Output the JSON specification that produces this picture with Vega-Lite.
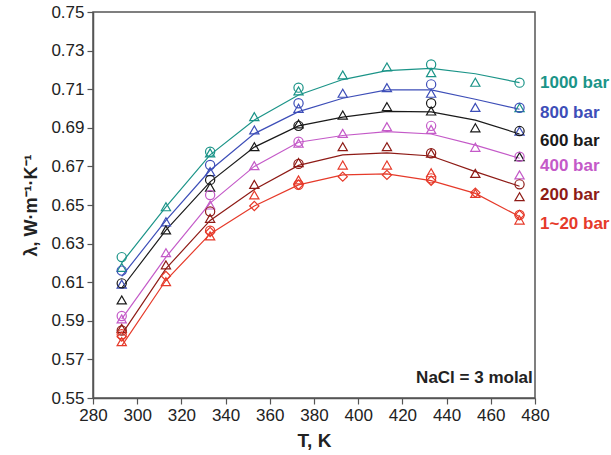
{
  "$schema": "https://vega.github.io/schema/vega-lite/v6.json",
  "width": 442,
  "height": 386,
  "autosize": {"type": "none"},
  "padding": {"left": 93, "top": 12, "right": 76, "bottom": 57},
  "background": "white",
  "config": {
    "font": "Liberation Sans",
    "view": {"stroke": "#555555", "strokeWidth": 1.5},
    "axis": {
      "grid": false,
      "domainColor": "#555555",
      "domainWidth": 1.5,
      "tickColor": "#555555",
      "tickWidth": 1.2,
      "tickSize": 6,
      "labelFont": "Liberation Sans",
      "labelFontSize": 17,
      "labelColor": "#222222",
      "labelOverlap": false,
      "labelFlush": false,
      "labelBound": false,
      "titleFont": "Liberation Sans",
      "titleFontWeight": "bold",
      "titleColor": "#222222"
    }
  },
  "datasets": {
    "fit": [
      {"series": "1000 bar", "T": 293, "lambda": 0.620}, {"series": "1000 bar", "T": 313, "lambda": 0.649}, {"series": "1000 bar", "T": 333, "lambda": 0.676}, {"series": "1000 bar", "T": 353, "lambda": 0.694}, {"series": "1000 bar", "T": 373, "lambda": 0.707}, {"series": "1000 bar", "T": 393, "lambda": 0.715}, {"series": "1000 bar", "T": 413, "lambda": 0.7196}, {"series": "1000 bar", "T": 433, "lambda": 0.7208}, {"series": "1000 bar", "T": 453, "lambda": 0.718}, {"series": "1000 bar", "T": 473, "lambda": 0.7134},
      {"series": "800 bar", "T": 293, "lambda": 0.613}, {"series": "800 bar", "T": 313, "lambda": 0.642}, {"series": "800 bar", "T": 333, "lambda": 0.668}, {"series": "800 bar", "T": 353, "lambda": 0.687}, {"series": "800 bar", "T": 373, "lambda": 0.6984}, {"series": "800 bar", "T": 393, "lambda": 0.7053}, {"series": "800 bar", "T": 413, "lambda": 0.7096}, {"series": "800 bar", "T": 433, "lambda": 0.7096}, {"series": "800 bar", "T": 453, "lambda": 0.7048}, {"series": "800 bar", "T": 473, "lambda": 0.6996},
      {"series": "600 bar", "T": 293, "lambda": 0.607}, {"series": "600 bar", "T": 313, "lambda": 0.637}, {"series": "600 bar", "T": 333, "lambda": 0.662}, {"series": "600 bar", "T": 353, "lambda": 0.680}, {"series": "600 bar", "T": 373, "lambda": 0.691}, {"series": "600 bar", "T": 393, "lambda": 0.6955}, {"series": "600 bar", "T": 413, "lambda": 0.6985}, {"series": "600 bar", "T": 433, "lambda": 0.6982}, {"series": "600 bar", "T": 453, "lambda": 0.694}, {"series": "600 bar", "T": 473, "lambda": 0.6868},
      {"series": "400 bar", "T": 293, "lambda": 0.591}, {"series": "400 bar", "T": 313, "lambda": 0.623}, {"series": "400 bar", "T": 333, "lambda": 0.651}, {"series": "400 bar", "T": 353, "lambda": 0.670}, {"series": "400 bar", "T": 373, "lambda": 0.6825}, {"series": "400 bar", "T": 393, "lambda": 0.686}, {"series": "400 bar", "T": 413, "lambda": 0.688}, {"series": "400 bar", "T": 433, "lambda": 0.6868}, {"series": "400 bar", "T": 453, "lambda": 0.681}, {"series": "400 bar", "T": 473, "lambda": 0.6742},
      {"series": "200 bar", "T": 293, "lambda": 0.583}, {"series": "200 bar", "T": 313, "lambda": 0.617}, {"series": "200 bar", "T": 333, "lambda": 0.642}, {"series": "200 bar", "T": 353, "lambda": 0.658}, {"series": "200 bar", "T": 373, "lambda": 0.6705}, {"series": "200 bar", "T": 393, "lambda": 0.676}, {"series": "200 bar", "T": 413, "lambda": 0.677}, {"series": "200 bar", "T": 433, "lambda": 0.6754}, {"series": "200 bar", "T": 453, "lambda": 0.6673}, {"series": "200 bar", "T": 473, "lambda": 0.6597},
      {"series": "1~20 bar", "T": 293, "lambda": 0.577}, {"series": "1~20 bar", "T": 313, "lambda": 0.611}, {"series": "1~20 bar", "T": 333, "lambda": 0.635}, {"series": "1~20 bar", "T": 353, "lambda": 0.6495}, {"series": "1~20 bar", "T": 373, "lambda": 0.6604}, {"series": "1~20 bar", "T": 393, "lambda": 0.6656}, {"series": "1~20 bar", "T": 413, "lambda": 0.6661}, {"series": "1~20 bar", "T": 433, "lambda": 0.6626}, {"series": "1~20 bar", "T": 453, "lambda": 0.656}, {"series": "1~20 bar", "T": 473, "lambda": 0.644}
    ],
    "obs": [
      {"series": "1000 bar", "marker": "circle", "T": 293, "lambda": 0.623}, {"series": "1000 bar", "marker": "circle", "T": 333, "lambda": 0.6776}, {"series": "1000 bar", "marker": "circle", "T": 373, "lambda": 0.7108}, {"series": "1000 bar", "marker": "circle", "T": 433, "lambda": 0.7228}, {"series": "1000 bar", "marker": "circle", "T": 473, "lambda": 0.7134},
      {"series": "1000 bar", "marker": "triangle", "T": 293, "lambda": 0.6177}, {"series": "1000 bar", "marker": "triangle", "T": 313, "lambda": 0.6491}, {"series": "1000 bar", "marker": "triangle", "T": 333, "lambda": 0.677}, {"series": "1000 bar", "marker": "triangle", "T": 353, "lambda": 0.6958}, {"series": "1000 bar", "marker": "triangle", "T": 373, "lambda": 0.7091}, {"series": "1000 bar", "marker": "triangle", "T": 393, "lambda": 0.7174}, {"series": "1000 bar", "marker": "triangle", "T": 413, "lambda": 0.7215}, {"series": "1000 bar", "marker": "triangle", "T": 433, "lambda": 0.7186}, {"series": "1000 bar", "marker": "triangle", "T": 453, "lambda": 0.7136}, {"series": "1000 bar", "marker": "triangle", "T": 473, "lambda": 0.7004},
      {"series": "800 bar", "marker": "circle", "T": 293, "lambda": 0.616}, {"series": "800 bar", "marker": "circle", "T": 333, "lambda": 0.6707}, {"series": "800 bar", "marker": "circle", "T": 373, "lambda": 0.7027}, {"series": "800 bar", "marker": "circle", "T": 433, "lambda": 0.7125}, {"series": "800 bar", "marker": "circle", "T": 473, "lambda": 0.7004},
      {"series": "800 bar", "marker": "triangle", "T": 293, "lambda": 0.609}, {"series": "800 bar", "marker": "triangle", "T": 313, "lambda": 0.6413}, {"series": "800 bar", "marker": "triangle", "T": 333, "lambda": 0.6673}, {"series": "800 bar", "marker": "triangle", "T": 353, "lambda": 0.6889}, {"series": "800 bar", "marker": "triangle", "T": 373, "lambda": 0.7001}, {"series": "800 bar", "marker": "triangle", "T": 393, "lambda": 0.7079}, {"series": "800 bar", "marker": "triangle", "T": 413, "lambda": 0.7108}, {"series": "800 bar", "marker": "triangle", "T": 433, "lambda": 0.7079}, {"series": "800 bar", "marker": "triangle", "T": 453, "lambda": 0.7006}, {"series": "800 bar", "marker": "triangle", "T": 473, "lambda": 0.6883},
      {"series": "600 bar", "marker": "circle", "T": 293, "lambda": 0.6094}, {"series": "600 bar", "marker": "circle", "T": 333, "lambda": 0.663}, {"series": "600 bar", "marker": "circle", "T": 373, "lambda": 0.691}, {"series": "600 bar", "marker": "circle", "T": 433, "lambda": 0.7027}, {"series": "600 bar", "marker": "circle", "T": 473, "lambda": 0.6883},
      {"series": "600 bar", "marker": "triangle", "T": 293, "lambda": 0.6008}, {"series": "600 bar", "marker": "triangle", "T": 313, "lambda": 0.6371}, {"series": "600 bar", "marker": "triangle", "T": 333, "lambda": 0.6592}, {"series": "600 bar", "marker": "triangle", "T": 353, "lambda": 0.6802}, {"series": "600 bar", "marker": "triangle", "T": 373, "lambda": 0.692}, {"series": "600 bar", "marker": "triangle", "T": 393, "lambda": 0.6966}, {"series": "600 bar", "marker": "triangle", "T": 413, "lambda": 0.701}, {"series": "600 bar", "marker": "triangle", "T": 433, "lambda": 0.6987}, {"series": "600 bar", "marker": "triangle", "T": 453, "lambda": 0.690}, {"series": "600 bar", "marker": "triangle", "T": 473, "lambda": 0.675},
      {"series": "400 bar", "marker": "circle", "T": 293, "lambda": 0.5925}, {"series": "400 bar", "marker": "circle", "T": 333, "lambda": 0.6552}, {"series": "400 bar", "marker": "circle", "T": 373, "lambda": 0.6828}, {"series": "400 bar", "marker": "circle", "T": 433, "lambda": 0.691}, {"series": "400 bar", "marker": "circle", "T": 473, "lambda": 0.675},
      {"series": "400 bar", "marker": "triangle", "T": 293, "lambda": 0.591}, {"series": "400 bar", "marker": "triangle", "T": 313, "lambda": 0.6253}, {"series": "400 bar", "marker": "triangle", "T": 333, "lambda": 0.650}, {"series": "400 bar", "marker": "triangle", "T": 353, "lambda": 0.6704}, {"series": "400 bar", "marker": "triangle", "T": 373, "lambda": 0.682}, {"series": "400 bar", "marker": "triangle", "T": 393, "lambda": 0.6871}, {"series": "400 bar", "marker": "triangle", "T": 413, "lambda": 0.6906}, {"series": "400 bar", "marker": "triangle", "T": 433, "lambda": 0.6892}, {"series": "400 bar", "marker": "triangle", "T": 453, "lambda": 0.6799}, {"series": "400 bar", "marker": "triangle", "T": 473, "lambda": 0.6656},
      {"series": "200 bar", "marker": "circle", "T": 293, "lambda": 0.585}, {"series": "200 bar", "marker": "circle", "T": 333, "lambda": 0.6466}, {"series": "200 bar", "marker": "circle", "T": 373, "lambda": 0.6713}, {"series": "200 bar", "marker": "circle", "T": 433, "lambda": 0.6768}, {"series": "200 bar", "marker": "circle", "T": 473, "lambda": 0.6607},
      {"series": "200 bar", "marker": "triangle", "T": 293, "lambda": 0.5861}, {"series": "200 bar", "marker": "triangle", "T": 313, "lambda": 0.619}, {"series": "200 bar", "marker": "triangle", "T": 333, "lambda": 0.6431}, {"series": "200 bar", "marker": "triangle", "T": 353, "lambda": 0.6607}, {"series": "200 bar", "marker": "triangle", "T": 373, "lambda": 0.672}, {"series": "200 bar", "marker": "triangle", "T": 393, "lambda": 0.6802}, {"series": "200 bar", "marker": "triangle", "T": 413, "lambda": 0.6802}, {"series": "200 bar", "marker": "triangle", "T": 433, "lambda": 0.6768}, {"series": "200 bar", "marker": "triangle", "T": 453, "lambda": 0.6664}, {"series": "200 bar", "marker": "triangle", "T": 473, "lambda": 0.6543},
      {"series": "1~20 bar", "marker": "circle", "T": 293, "lambda": 0.583}, {"series": "1~20 bar", "marker": "circle", "T": 333, "lambda": 0.6367}, {"series": "1~20 bar", "marker": "circle", "T": 373, "lambda": 0.6605}, {"series": "1~20 bar", "marker": "circle", "T": 433, "lambda": 0.6638}, {"series": "1~20 bar", "marker": "circle", "T": 473, "lambda": 0.6448},
      {"series": "1~20 bar", "marker": "triangle", "T": 293, "lambda": 0.5792}, {"series": "1~20 bar", "marker": "triangle", "T": 313, "lambda": 0.6103}, {"series": "1~20 bar", "marker": "triangle", "T": 333, "lambda": 0.634}, {"series": "1~20 bar", "marker": "triangle", "T": 353, "lambda": 0.6552}, {"series": "1~20 bar", "marker": "triangle", "T": 373, "lambda": 0.663}, {"series": "1~20 bar", "marker": "triangle", "T": 393, "lambda": 0.6707}, {"series": "1~20 bar", "marker": "triangle", "T": 413, "lambda": 0.6707}, {"series": "1~20 bar", "marker": "triangle", "T": 433, "lambda": 0.6667}, {"series": "1~20 bar", "marker": "triangle", "T": 453, "lambda": 0.656}, {"series": "1~20 bar", "marker": "triangle", "T": 473, "lambda": 0.6422},
      {"series": "1~20 bar", "marker": "diamond", "T": 293, "lambda": 0.5818}, {"series": "1~20 bar", "marker": "diamond", "T": 313, "lambda": 0.6132}, {"series": "1~20 bar", "marker": "diamond", "T": 333, "lambda": 0.636}, {"series": "1~20 bar", "marker": "diamond", "T": 353, "lambda": 0.6495}, {"series": "1~20 bar", "marker": "diamond", "T": 373, "lambda": 0.6605}, {"series": "1~20 bar", "marker": "diamond", "T": 393, "lambda": 0.6647}, {"series": "1~20 bar", "marker": "diamond", "T": 413, "lambda": 0.6656}, {"series": "1~20 bar", "marker": "diamond", "T": 433, "lambda": 0.6626}, {"series": "1~20 bar", "marker": "diamond", "T": 453, "lambda": 0.6564}, {"series": "1~20 bar", "marker": "diamond", "T": 473, "lambda": 0.6448}
    ],
    "labels": [
      {"series": "1000 bar", "T": 480, "lambda": 0.713},
      {"series": "800 bar", "T": 480, "lambda": 0.6978},
      {"series": "600 bar", "T": 480, "lambda": 0.6832},
      {"series": "400 bar", "T": 480, "lambda": 0.6702},
      {"series": "200 bar", "T": 480, "lambda": 0.6552},
      {"series": "1~20 bar", "T": 480, "lambda": 0.6402}
    ],
    "notes": [
      {"note": "NaCl = 3 molal", "T": 479, "lambda": 0.5604}
    ]
  },
  "layer": [
    {
      "data": {"name": "fit"},
      "mark": {"type": "line", "strokeWidth": 1.2},
      "encoding": {
        "x": {"field": "T", "type": "quantitative", "scale": {"domain": [280, 480], "nice": false, "zero": false},
              "axis": {"values": [280, 300, 320, 340, 360, 380, 400, 420, 440, 460, 480], "title": "T, K", "titleFontSize": 19, "labelPadding": 3, "titlePadding": 8, "labelOverlap": false}},
        "y": {"field": "lambda", "type": "quantitative", "scale": {"domain": [0.55, 0.75], "nice": false, "zero": false},
              "axis": {"values": [0.55, 0.57, 0.59, 0.61, 0.63, 0.65, 0.67, 0.69, 0.71, 0.73, 0.75], "tickCount": 11, "format": ".2f", "title": "λ, W·m⁻¹·K⁻¹", "titleFontSize": 18, "labelPadding": 3, "titlePadding": 10, "labelOverlap": false}},
        "color": {"field": "series", "type": "nominal",
                  "scale": {"domain": ["1000 bar", "800 bar", "600 bar", "400 bar", "200 bar", "1~20 bar"],
                            "range": ["#1b9488", "#3d4eb8", "#1a1a1a", "#c45ac8", "#8e1b16", "#e63a2a"]},
                  "legend": null},
        "order": {"field": "T", "type": "quantitative"}
      }
    },
    {
      "data": {"name": "obs"},
      "mark": {"type": "point", "filled": false, "strokeWidth": 1.2, "opacity": 1},
      "encoding": {
        "x": {"field": "T", "type": "quantitative"},
        "y": {"field": "lambda", "type": "quantitative"},
        "color": {"field": "series", "type": "nominal", "legend": null},
        "shape": {"field": "marker", "type": "nominal",
                  "scale": {"domain": ["circle", "triangle", "diamond"], "range": ["circle", "triangle-up", "diamond"]},
                  "legend": null},
        "size": {"value": 85}
      }
    },
    {
      "data": {"name": "labels"},
      "mark": {"type": "text", "align": "left", "baseline": "middle", "dx": 5, "fontSize": 17, "fontWeight": "bold", "font": "Liberation Sans"},
      "encoding": {
        "x": {"field": "T", "type": "quantitative"},
        "y": {"field": "lambda", "type": "quantitative"},
        "text": {"field": "series"},
        "color": {"field": "series", "type": "nominal", "legend": null}
      }
    },
    {
      "data": {"name": "notes"},
      "mark": {"type": "text", "align": "right", "baseline": "middle", "fontSize": 17, "fontWeight": "bold", "font": "Liberation Sans", "color": "#222222"},
      "encoding": {
        "x": {"field": "T", "type": "quantitative"},
        "y": {"field": "lambda", "type": "quantitative"},
        "text": {"field": "note"}
      }
    }
  ]
}
